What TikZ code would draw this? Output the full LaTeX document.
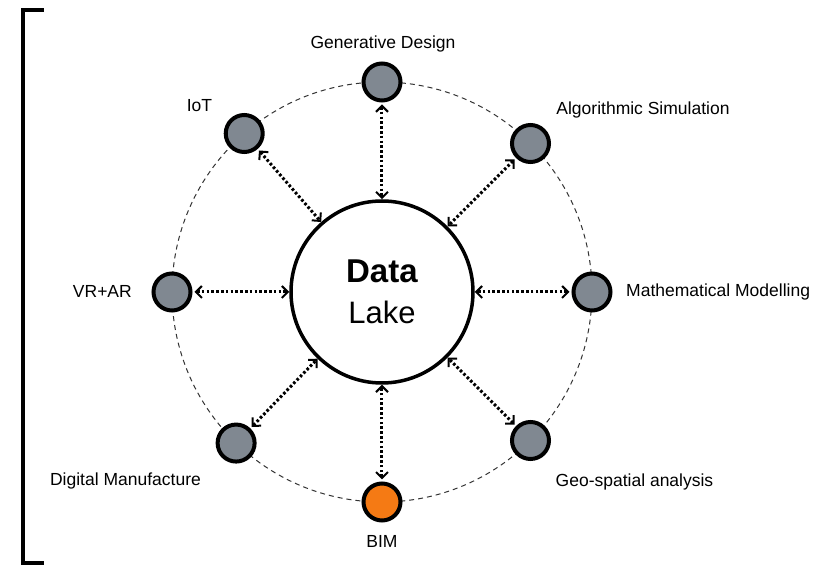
\documentclass[tikz,border=0pt]{standalone}
\usepackage{fontspec}
\setmainfont{Liberation Sans}
\usetikzlibrary{arrows.meta,positioning}
\definecolor{hubgrey}{RGB}{128,136,145}
\definecolor{bimorange}{RGB}{245,122,20}

\begin{document}
\begin{tikzpicture}[x=1pt,y=1pt,
	sat/.style={circle,draw,line width=4pt,fill=hubgrey,minimum size=37pt,inner sep=0pt},
	lbl/.style={font=\fontsize{17.5}{21}\selectfont,inner sep=0pt},
	barb/.tip={Straight Barb[length=6pt,width=12pt,line width=2pt]},
	link/.style={barb-barb,line width=3pt,dash pattern=on 2.6pt off 2.2pt,shorten <=2pt}]
	\useasboundingbox (-382,-275) rectangle (443,292);
	\draw[line width=4pt] (-338,282) -| (-359,-271) -- (-338,-271);
	\draw[gray!40!black,line width=1pt,dash pattern=on 5pt off 4pt] (0,0) circle (210);
	
	\node[circle,draw,line width=3.5pt,minimum size=182pt,align=center,font=\fontsize{31}{41}\selectfont] (lake) at (0,0) {\textbf{\fontsize{33}{41}\selectfont Data}\\Lake};
	\foreach \a/\n in {90/gd,131/iot,45/algo,180/vrar,0/maths,226/digman,315/geo}
		\node[sat] (\n) at (\a:210) {};
	\node[sat,fill=bimorange] (bim) at (270:210) {};
	
	\node[lbl,anchor=base] (gdlbl) at (1,243) {Generative Design};
	\node[lbl,anchor=base] (iotlbl) at (-182.5,180) {IoT};
	\node[lbl,anchor=base] (algolbl) at (261,177) {Algorithmic Simulation};
	\node[lbl,anchor=base east] (vrarlbl) at (-250,-6) {VR+AR};
	\node[lbl,anchor=base west] (mathslbl) at (244,-5) {Mathematical Modelling};
	\node[lbl,anchor=base] (digmanlbl) at (-256.5,-194) {Digital Manufacture};
	\node[lbl,anchor=base] (geolbl) at (252.5,-195) {Geo-spatial analysis};
	\node[lbl,anchor=base] (bimlbl) at (0,-256) {BIM};
	
	\foreach \n in {gd,iot,algo,vrar,maths,digman,geo,bim}
		\draw[link] (\n) -- (lake);
\end{tikzpicture}
\end{document}
